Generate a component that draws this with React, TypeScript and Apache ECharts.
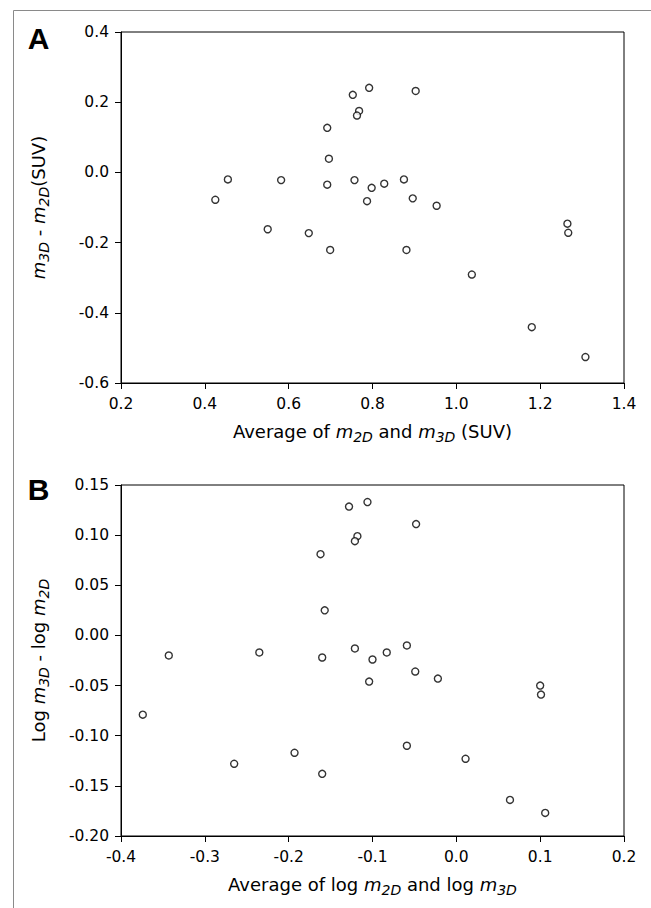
import React, { useEffect, useRef } from "react";
import * as echarts from "echarts";

// Panel A: Bland-Altman in SUV units
const aAvg = [0.753, 0.792, 0.903, 0.768, 0.763, 0.692, 0.696, 0.455, 0.582, 0.692, 0.757, 0.798, 0.828, 0.875, 0.425, 0.787, 0.896, 0.953, 0.55, 0.648, 0.699, 0.881, 1.265, 1.267, 1.037, 1.18, 1.308];
const aDiff = [0.221, 0.241, 0.232, 0.175, 0.162, 0.127, 0.039, -0.02, -0.022, -0.035, -0.022, -0.044, -0.032, -0.02, -0.078, -0.082, -0.074, -0.095, -0.162, -0.173, -0.221, -0.221, -0.146, -0.172, -0.291, -0.441, -0.526];

// Panel B: Bland-Altman on log scale
const bAvg = [-0.048, -0.118, -0.121, -0.162, -0.157, -0.343, -0.235, -0.16, -0.121, -0.1, -0.083, -0.059, -0.104, -0.049, -0.022, -0.374, -0.059, 0.011, -0.193, -0.265, 0.1, 0.101, 0.064, 0.106, -0.128, -0.106, -0.16];
const bDiff = [0.111, 0.099, 0.094, 0.081, 0.025, -0.02, -0.017, -0.022, -0.013, -0.024, -0.017, -0.01, -0.046, -0.036, -0.043, -0.079, -0.11, -0.123, -0.117, -0.128, -0.05, -0.059, -0.164, -0.177, 0.1285, 0.133, -0.138];

// Axis ranges / ticks [min, max, interval]
const aXRange = [0.2, 1.4, 0.2];
const aYRange = [-0.6, 0.4, 0.2];
const bXRange = [-0.4, 0.2, 0.1];
const bYRange = [-0.2, 0.15, 0.05];

const panelLabels = ["A", "B"];

const FONT = "DejaVu Sans";

const rich = {
  t: { fontFamily: FONT, fontSize: 18, color: "#000", lineHeight: 26, verticalAlign: "middle" },
  i: { fontFamily: FONT, fontSize: 18, fontStyle: "italic", color: "#000", lineHeight: 26, verticalAlign: "middle" },
  s: { fontFamily: FONT, fontSize: 14, fontStyle: "italic", color: "#000", verticalAlign: "bottom" },
};

function valueAxis(gridIndex: number, range: number[], decimals: number, isX: boolean, name: string, nameGap: number) {
  return {
    type: "value",
    gridIndex,
    min: range[0],
    max: range[1],
    interval: range[2],
    name,
    nameLocation: "middle",
    nameGap,
    nameTextStyle: { rich },
    axisLine: { show: true, onZero: false, lineStyle: { color: "#000", width: 1 } },
    axisTick: { show: true, inside: false, length: 6, lineStyle: { color: "#000", width: 1 } },
    splitLine: { show: false },
    axisLabel: {
      color: "#000",
      fontFamily: FONT,
      fontSize: 15.5,
      margin: isX ? 13 : 12,
      formatter: (v: number) => v.toFixed(decimals),
    },
  };
}

export default function App() {
  const ref = useRef<HTMLDivElement>(null);
  useEffect(() => {
    const chart = echarts.init(ref.current!, null, { renderer: "svg" });
    const symbolStyle = { color: "#fff", borderColor: "#000", borderWidth: 1.4 };
    chart.setOption({
      animation: false,
      backgroundColor: "#fff",
      grid: [
        { left: 121, top: 32, width: 503, height: 351, show: true, borderColor: "#000", borderWidth: 1, backgroundColor: "transparent" },
        { left: 121, top: 485, width: 503, height: 351, show: true, borderColor: "#000", borderWidth: 1, backgroundColor: "transparent" },
      ],
      xAxis: [
        valueAxis(0, aXRange, 1, true, "{t|Average of }{i|m}{s|2D}{t| and }{i|m}{s|3D}{t| (SUV)}", 35),
        valueAxis(1, bXRange, 1, true, "{t|Average of log }{i|m}{s|2D}{t| and log }{i|m}{s|3D}", 35),
      ],
      yAxis: [
        valueAxis(0, aYRange, 1, false, "{i|m}{s|3D}{t| - }{i|m}{s|2D}{t|(SUV)}", 70),
        valueAxis(1, bYRange, 2, false, "{t|Log }{i|m}{s|3D}{t| - log }{i|m}{s|2D}", 70),
      ],
      series: [
        {
          type: "scatter",
          xAxisIndex: 0,
          yAxisIndex: 0,
          symbol: "circle",
          symbolSize: 7,
          itemStyle: symbolStyle,
          data: aAvg.map((x, k) => [x, aDiff[k]]),
        },
        {
          type: "scatter",
          xAxisIndex: 1,
          yAxisIndex: 1,
          symbol: "circle",
          symbolSize: 7,
          itemStyle: symbolStyle,
          data: bAvg.map((x, k) => [x, bDiff[k]]),
        },
      ],
      graphic: [
        {
          type: "rect",
          shape: { x: 13.5, y: 10.5, width: 700, height: 1000 },
          style: { fill: "none", stroke: "#8a8a8a", lineWidth: 1 },
          silent: true,
        },
        {
          type: "text",
          x: 38.5,
          y: 38,
          style: { text: panelLabels[0], font: "bold 30px 'Liberation Sans', Arial, sans-serif", fill: "#000", textAlign: "center", textVerticalAlign: "middle" },
        },
        {
          type: "text",
          x: 38.5,
          y: 489,
          style: { text: panelLabels[1], font: "bold 30px 'Liberation Sans', Arial, sans-serif", fill: "#000", textAlign: "center", textVerticalAlign: "middle" },
        },
      ],
    });
    return () => chart.dispose();
  }, []);
  return (
    <div
      ref={ref}
      style={{ position: "fixed", left: 0, top: 0, width: 651, height: 908, background: "#fff" }}
    />
  );
}
